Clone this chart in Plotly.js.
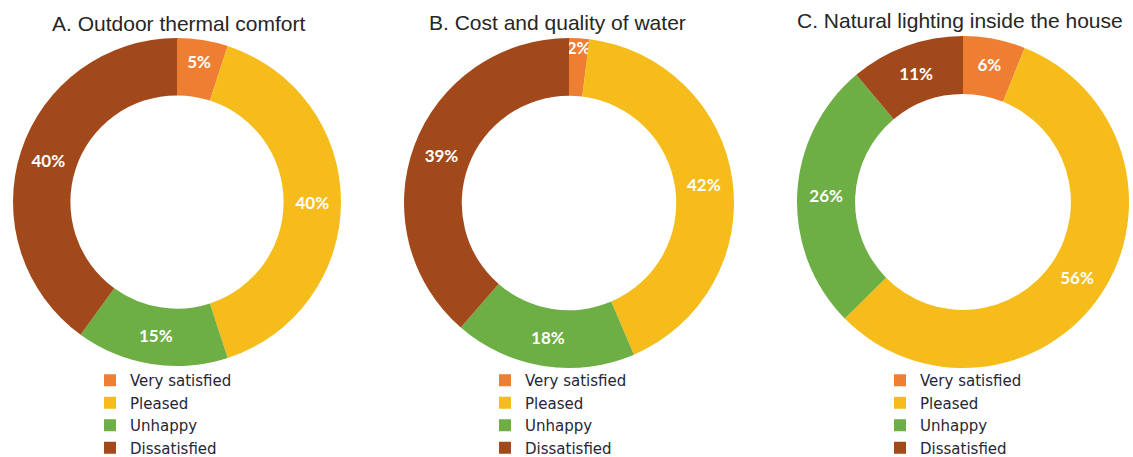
<!DOCTYPE html>
<html>
<head>
<meta charset="utf-8">
<script src="https://cdn.plot.ly/plotly-3.0.1.min.js"></script>
<style>html,body{margin:0;padding:0;background:#fff;}#chart{width:1133px;height:457px;}</style>
</head>
<body>
<div id="chart"></div>
<script>
const categories = ["Very satisfied", "Pleased", "Unhappy", "Dissatisfied"];
const titles = ["A. Outdoor thermal comfort", "B. Cost and quality of water", "C. Natural lighting inside the house"];
const valuesA = [5, 40, 15, 40];
const valuesB = [2, 42, 18, 39];
const valuesC = [6, 56, 26, 11];
const colors = ["#EE7E32", "#F5BC1C", "#6DAE45", "#A2491B"];

const W = 1133, H = 457;
function dom(cx, cy, r) {
  return { x: [(cx - r) / W, (cx + r) / W], y: [(H - (cy + r)) / H, (H - (cy - r)) / H] };
}
const domains = [dom(177, 202, 164), dom(569, 203, 165), dom(963, 202, 166)];
const allValues = [valuesA, valuesB, valuesC];
const legendIds = ["legend", "legend2", "legend3"];

// each donut keeps its own legend: labels made distinct per trace with zero-width spaces
const traces = allValues.map((vals, i) => ({
  type: "pie",
  name: titles[i],
  labels: categories.map(c => c + "\u200B".repeat(i)),
  values: vals,
  sort: false,
  direction: "clockwise",
  rotation: 0,
  hole: 0.65,
  domain: domains[i],
  marker: { colors: colors, line: { width: 0 } },
  texttemplate: "%{value}%",
  textposition: "inside",
  insidetextorientation: "horizontal",
  textfont: { family: "Lato", size: 17, color: "#ffffff", weight: "bold" },
  legend: legendIds[i],
  showlegend: true,
  hoverinfo: "label+value"
}));

function legendAt(x, y) {
  return {
    visible: true,
    x: x / W, y: (H - y) / H, xanchor: "left", yanchor: "top",
    bgcolor: "rgba(0,0,0,0)", borderwidth: 0,
    font: { family: "DejaVu Sans, Liberation Sans, sans-serif", size: 15, color: "#262636" },
    itemwidth: 30, tracegroupgap: 0, traceorder: "normal"
  };
}

const titleX = [178, 557, 960];
const titleY = [23, 22, 20];
const annotations = titles.map((t, i) => ({
  text: t, xref: "paper", yref: "paper",
  x: titleX[i] / W, y: (H - titleY[i]) / H,
  xanchor: "center", yanchor: "middle", showarrow: false,
  font: { family: "Liberation Sans, Arial, sans-serif", size: 21, color: "#262626" }
}));

const layout = {
  width: W, height: H,
  margin: { l: 0, r: 0, t: 0, b: 0, autoexpand: false },
  paper_bgcolor: "#ffffff",
  showlegend: true,
  legend: legendAt(90, 364),
  legend2: legendAt(485, 364),
  legend3: legendAt(880, 364),
  annotations: annotations,
  uniformtext: { mode: "show", minsize: 16 }
};

Plotly.newPlot("chart", traces, layout, { displayModeBar: false, staticPlot: true });
</script>
</body>
</html>
